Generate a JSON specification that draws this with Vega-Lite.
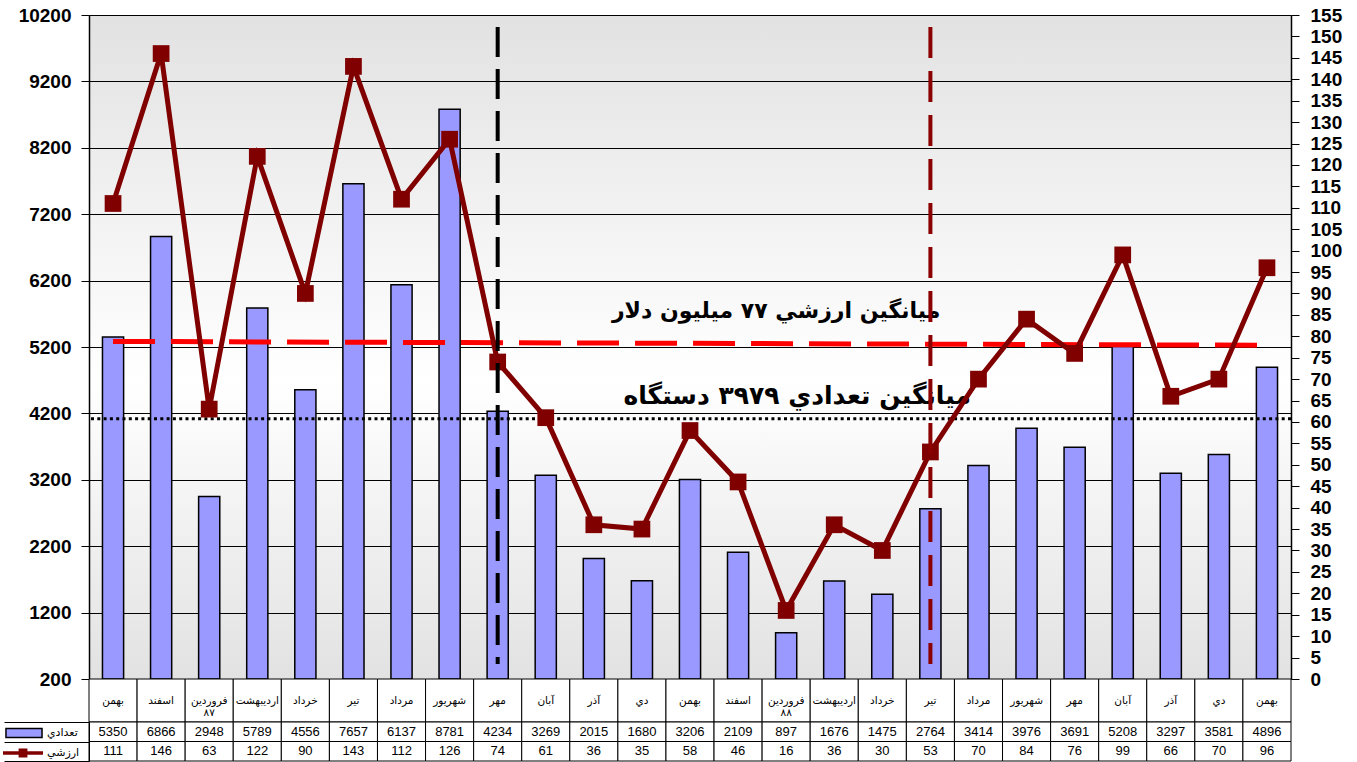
{
  "$schema": "https://vega.github.io/schema/vega-lite/v6.json",
  "padding": {"left": 3, "top": 6, "right": 12, "bottom": 0},
  "background": "white",
  "bounds": "flush",
  "spacing": 0,
  "config": {"font": "Liberation Sans, DejaVu Sans", "view": {"stroke": null}},
  "datasets": {
    "main": [
      {"i": 1, "m": "بهمن", "n": 5350, "v": 111},
      {"i": 2, "m": "اسفند", "n": 6866, "v": 146},
      {"i": 3, "m": "فروردين\n٨٧", "n": 2948, "v": 63},
      {"i": 4, "m": "ارديبهشت", "n": 5789, "v": 122},
      {"i": 5, "m": "خرداد", "n": 4556, "v": 90},
      {"i": 6, "m": "تير", "n": 7657, "v": 143},
      {"i": 7, "m": "مرداد", "n": 6137, "v": 112},
      {"i": 8, "m": "شهريور", "n": 8781, "v": 126},
      {"i": 9, "m": "مهر", "n": 4234, "v": 74},
      {"i": 10, "m": "آبان", "n": 3269, "v": 61},
      {"i": 11, "m": "آذر", "n": 2015, "v": 36},
      {"i": 12, "m": "دي", "n": 1680, "v": 35},
      {"i": 13, "m": "بهمن", "n": 3206, "v": 58},
      {"i": 14, "m": "اسفند", "n": 2109, "v": 46},
      {"i": 15, "m": "فروردين\n٨٨", "n": 897, "v": 16},
      {"i": 16, "m": "ارديبهشت", "n": 1676, "v": 36},
      {"i": 17, "m": "خرداد", "n": 1475, "v": 30},
      {"i": 18, "m": "تير", "n": 2764, "v": 53},
      {"i": 19, "m": "مرداد", "n": 3414, "v": 70},
      {"i": 20, "m": "شهريور", "n": 3976, "v": 84},
      {"i": 21, "m": "مهر", "n": 3691, "v": 76},
      {"i": 22, "m": "آبان", "n": 5208, "v": 99},
      {"i": 23, "m": "آذر", "n": 3297, "v": 66},
      {"i": 24, "m": "دي", "n": 3581, "v": 70},
      {"i": 25, "m": "بهمن", "n": 4896, "v": 96}
    ],
    "avgv": [{"i": 1, "v": 78.8}, {"i": 25, "v": 77.9}],
    "avgn": [{"n": 4120}],
    "vblack": [{"i": 9, "v": 152.2, "v2": 3.5}],
    "vred": [{"i": 18, "v": 152.2, "v2": 3.5}],
    "t1": [{"i": 15, "n": 5742, "t": "ميانگين ارزشي ۷۷ ميليون دلار"}],
    "t2": [{"i": 15, "n": 4462, "t": "ميانگين تعدادي ۳۹۷۹ دستگاه"}]
  },
  "vconcat": [
    {
      "width": 1202,
      "height": 664,
      "view": {"stroke": null, "fill": {"gradient": "linear", "x1": 0, "y1": 0, "x2": 0, "y2": 1, "stops": [{"offset": 0, "color": "#E2E2E2"}, {"offset": 0.55, "color": "#FFFFFF"}, {"offset": 1, "color": "#E2E2E2"}]}},
      "layer": [
        {
          "encoding": {
            "y": {"field": "n", "type": "quantitative", "scale": {"domain": [200, 10200], "nice": false, "zero": false},
              "axis": {"values": [200, 1200, 2200, 3200, 4200, 5200, 6200, 7200, 8200, 9200, 10200], "format": "d", "labelOverlap": false, "title": null, "labelFont": "Liberation Sans", "labelFontWeight": "bold", "labelFontSize": 19, "labelColor": "#000000", "tickSize": 8, "tickColor": "#000000", "domainColor": "#000000", "domainWidth": 1.5, "labelPadding": 10, "grid": true, "gridColor": "#000000", "gridWidth": 1, "gridOpacity": 1}}
          },
          "layer": [
            {
              "data": {"name": "main"},
              "mark": {"type": "bar", "stroke": "#000000", "strokeWidth": 1.5, "width": {"band": 0.44}},
              "encoding": {
                "x": {"field": "i", "type": "ordinal", "axis": null, "scale": {"paddingInner": 0, "paddingOuter": 0}},
                "y2": {"datum": 200},
                "fill": {"datum": "تعدادي", "scale": {"range": ["#9999FF"]}, "legend": {"orient": "none", "legendX": -84, "legendY": 699, "title": null, "symbolType": "M-1,-0.25H1V0.25H-1Z", "symbolSize": 1300, "symbolStrokeColor": "#000000", "symbolStrokeWidth": 1.5, "labelFont": "DejaVu Sans", "labelFontSize": 11, "labelColor": "#000000", "labelOffset": 4}}
              }
            },
            {
              "data": {"name": "avgn"},
              "mark": {"type": "rule", "color": "#000000", "strokeWidth": 3, "strokeDash": [3, 3.3]},
              "encoding": {}
            },
            {
              "data": {"name": "t1"},
              "mark": {"type": "text", "font": "DejaVu Sans", "fontWeight": "bold", "fontSize": 22, "color": "#000000", "dx": -10},
              "encoding": {"x": {"field": "i", "type": "ordinal"}, "text": {"field": "t"}}
            },
            {
              "data": {"name": "t2"},
              "mark": {"type": "text", "font": "DejaVu Sans", "fontWeight": "bold", "fontSize": 25, "color": "#000000", "dx": 11},
              "encoding": {"x": {"field": "i", "type": "ordinal"}, "text": {"field": "t"}}
            }
          ]
        },
        {
          "encoding": {
            "x": {"field": "i", "type": "ordinal"},
            "y": {"field": "v", "type": "quantitative", "scale": {"domain": [0, 155], "nice": false, "zero": true},
              "axis": {"orient": "right", "values": [0, 5, 10, 15, 20, 25, 30, 35, 40, 45, 50, 55, 60, 65, 70, 75, 80, 85, 90, 95, 100, 105, 110, 115, 120, 125, 130, 135, 140, 145, 150, 155], "labelOverlap": false, "title": null, "labelFont": "Liberation Sans", "labelFontWeight": "bold", "labelFontSize": 19, "labelColor": "#000000", "tickSize": 8, "tickColor": "#000000", "domainColor": "#000000", "domainWidth": 1.5, "labelPadding": 11, "grid": false}}
          },
          "layer": [
            {
              "data": {"name": "avgv"},
              "mark": {"type": "line", "color": "#FF0000", "strokeWidth": 5, "strokeDash": [42, 16]}
            },
            {
              "data": {"name": "main"},
              "mark": {"type": "line", "strokeWidth": 5},
              "encoding": {
                "stroke": {"datum": "ارزشي", "scale": {"range": ["#800000"]}, "legend": {"orient": "none", "legendX": -86, "legendY": 718, "title": null, "symbolType": "M-1,-0.09H-0.22V-0.22H0.22V-0.09H1V0.09H0.22V0.22H-0.22V0.09H-1Z", "symbolSize": 1600, "symbolStrokeWidth": 0, "labelFont": "DejaVu Sans", "labelFontSize": 11, "labelColor": "#000000", "labelOffset": 4, "encode": {"symbols": {"update": {"fill": {"value": "#800000"}, "fillOpacity": {"value": 1}, "strokeWidth": {"value": 0}}}}}}
              }
            },
            {
              "data": {"name": "main"},
              "mark": {"type": "point", "shape": "square", "filled": true, "size": 280, "color": "#800000", "opacity": 1}
            },
            {
              "data": {"name": "vblack"},
              "mark": {"type": "rule", "color": "#000000", "strokeWidth": 4, "strokeDash": [30, 12]},
              "encoding": {"y2": {"field": "v2"}}
            },
            {
              "data": {"name": "vred"},
              "mark": {"type": "rule", "color": "#8B0000", "strokeWidth": 4, "strokeDash": [31, 13]},
              "encoding": {"y2": {"field": "v2"}}
            }
          ]
        }
      ],
      "resolve": {"scale": {"y": "independent"}}
    },
    {
      "width": 1202,
      "height": 43,
      "data": {"name": "main"},
      "layer": [
        {
          "mark": {"type": "bar", "fill": "#FFFFFF", "stroke": "#000000", "strokeWidth": 1, "width": {"band": 1}},
          "encoding": {"x": {"field": "i", "type": "ordinal", "axis": null, "scale": {"paddingInner": 0, "paddingOuter": 0}}}
        },
        {
          "mark": {"type": "text", "font": "DejaVu Sans", "fontSize": 10.5, "color": "#000000", "lineBreak": "\n", "baseline": "middle"},
          "encoding": {"x": {"field": "i", "type": "ordinal"}, "text": {"field": "m"}}
        }
      ]
    },
    {
      "width": 1202,
      "height": 39,
      "data": {"name": "main"},
      "transform": [{"fold": ["n", "v"], "as": ["k", "val"]}],
      "layer": [
        {
          "mark": {"type": "rect", "fill": "#FFFFFF", "stroke": "#000000", "strokeWidth": 1},
          "encoding": {
            "x": {"field": "i", "type": "ordinal", "axis": null, "scale": {"paddingInner": 0, "paddingOuter": 0}},
            "y": {"field": "k", "type": "nominal", "sort": ["n", "v"], "scale": {"paddingInner": 0, "paddingOuter": 0}, "axis": {"title": null, "labels": false, "ticks": true, "tickSize": 85, "tickBand": "extent", "tickColor": "#000000", "domainColor": "#000000", "grid": false}}
          }
        },
        {
          "mark": {"type": "text", "fontSize": 13, "font": "Liberation Sans", "color": "#000000"},
          "encoding": {"x": {"field": "i", "type": "ordinal"}, "y": {"field": "k", "type": "nominal", "sort": ["n", "v"]}, "text": {"field": "val"}}
        }
      ]
    }
  ]
}
